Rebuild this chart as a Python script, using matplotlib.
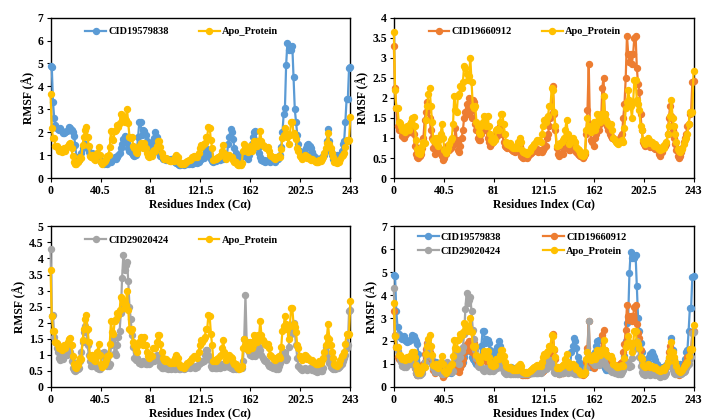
import numpy as np
import matplotlib
matplotlib.use("Agg")
import matplotlib.pyplot as plt

plt.rcParams['font.family'] = ['Liberation Serif', 'DejaVu Serif']
plt.rcParams['font.weight'] = 'bold'

residues = np.arange(244)

apo = [
    3.65, 2.20, 1.75, 1.75, 1.40, 1.38, 1.30, 1.20, 1.25, 1.15,
    1.25, 1.30, 1.20, 1.35, 1.40, 1.50, 1.52, 1.30, 0.95, 0.72,
    0.62, 0.60, 0.68, 0.80, 0.90, 0.88, 1.45, 1.80, 2.10, 2.25,
    1.80, 1.40, 0.95, 0.90, 1.00, 0.85, 0.80, 0.95, 1.10, 1.35,
    1.00, 0.70, 0.62, 0.68, 0.75, 0.85, 0.95, 1.00, 1.35, 2.05,
    1.70, 1.65, 2.05, 2.10, 2.30, 2.25, 2.40, 2.80, 2.75, 2.60,
    2.45, 2.55, 3.00, 2.40, 1.80, 1.75, 1.80, 1.40, 1.30, 1.15,
    1.10, 1.30, 1.40, 1.55, 1.45, 1.30, 1.55, 1.30, 1.10, 0.95,
    0.90, 1.00, 0.95, 1.20, 1.22, 1.20, 1.40, 1.60, 1.60, 1.35,
    1.10, 0.90, 0.85, 0.82, 0.88, 0.80, 0.78, 0.75, 0.75, 0.80,
    0.75, 0.90, 1.00, 0.90, 0.70, 0.65, 0.62, 0.65, 0.60, 0.65,
    0.68, 0.75, 0.78, 0.80, 0.85, 0.90, 0.95, 0.92, 0.95, 0.90,
    1.10, 1.30, 1.45, 1.40, 1.50, 1.55, 1.80, 1.80, 2.25, 2.20,
    1.65, 1.30, 0.80, 0.85, 0.82, 0.88, 0.90, 0.95, 1.00, 1.20,
    1.45, 1.10, 0.85, 0.90, 0.95, 1.00, 0.92, 0.90, 0.78, 0.72,
    0.70, 0.62, 0.58, 0.55, 0.58, 0.65, 1.20, 1.50, 1.30, 1.20,
    1.15, 1.30, 1.40, 1.20, 1.30, 1.60, 1.50, 1.40, 1.60, 1.55,
    2.05, 1.60, 1.45, 1.40, 1.35, 1.30, 1.35, 1.20, 1.00, 0.95,
    0.90, 0.88, 0.85, 0.90, 0.92, 0.95, 0.90, 1.25, 1.75, 1.90,
    2.20, 1.95, 1.80, 1.50, 1.90, 2.45, 2.45, 1.95, 1.85, 1.70,
    1.30, 1.20, 0.95, 0.90, 0.85, 0.92, 1.00, 0.95, 0.88, 0.90,
    0.85, 0.80, 0.85, 0.78, 0.75, 0.72, 0.70, 0.72, 0.80, 0.75,
    0.85, 0.90, 1.10, 1.30, 1.55, 1.95, 1.50, 1.30, 1.10, 0.90,
    0.72, 0.68, 0.65, 0.70, 0.72, 0.85, 0.95, 1.00, 1.10, 1.35,
    1.65, 1.62, 1.65, 2.68,
]

cid19579838 = [
    4.90, 4.85, 3.30, 2.60, 2.30, 2.20, 2.15, 2.10, 2.20, 2.05,
    1.98, 1.95, 2.00, 2.05, 2.10, 2.25, 2.20, 2.10, 2.00, 1.85,
    1.45, 0.90, 0.75, 0.80, 0.90, 1.10, 1.30, 1.45, 1.50, 1.40,
    1.30, 1.15, 1.00, 1.05, 1.10, 1.05, 1.00, 1.05, 0.95, 0.90,
    0.80, 0.70, 0.65, 0.62, 0.68, 0.72, 0.60, 0.70, 0.75, 0.72,
    0.80, 0.85, 0.90, 0.85, 0.90, 1.00, 1.10, 1.30, 1.50, 1.70,
    1.85, 1.75, 1.55, 1.30, 1.20, 1.15, 1.10, 1.00, 0.95, 1.00,
    1.20, 1.80, 2.45, 2.45, 1.90, 2.10, 2.05, 1.90, 1.60, 1.30,
    1.15, 1.30, 1.50, 1.60, 1.75, 2.00, 1.80, 1.45, 1.10, 0.95,
    0.90, 0.85, 0.88, 0.82, 0.80, 0.85, 0.80, 0.78, 0.82, 0.75,
    0.80, 0.70, 0.65, 0.60, 0.58, 0.55, 0.60, 0.62, 0.58, 0.60,
    0.65, 0.62, 0.60, 0.65, 0.68, 0.62, 0.65, 0.70, 0.68, 0.65,
    0.70, 0.80, 0.85, 0.90, 0.88, 1.05, 1.20, 1.25, 1.20, 1.00,
    0.85, 0.75, 0.72, 0.78, 0.75, 0.80, 0.85, 0.80, 0.88, 0.90,
    0.85, 0.90, 0.95, 1.00, 1.50, 1.80, 2.15, 2.00, 1.70, 1.30,
    1.10, 0.95, 0.85, 0.88, 0.90, 1.00, 1.15, 1.05, 0.95, 0.90,
    0.85, 1.00, 1.15, 1.50, 1.80, 2.00, 2.05, 1.60, 1.30, 1.10,
    0.90, 0.80, 0.75, 0.78, 0.72, 0.75, 0.80, 0.78, 0.72, 0.75,
    0.80, 0.75, 0.72, 0.78, 0.85, 0.90, 1.00, 1.35, 2.00, 2.80,
    3.05, 4.95, 5.90, 5.60, 5.70, 5.60, 5.75, 4.40, 3.00, 2.45,
    1.90, 1.50, 1.20, 1.05, 1.00, 1.05, 1.10, 1.30, 1.45, 1.50,
    1.40, 1.30, 1.15, 1.00, 0.90, 0.85, 0.82, 0.80, 0.85, 0.88,
    0.88, 0.95, 1.00, 1.20, 1.60, 2.15, 1.60, 1.20, 1.00, 0.85,
    0.85, 0.90, 1.00, 0.95, 0.92, 0.98, 1.20, 1.50, 1.60, 2.45,
    3.45, 3.45, 4.80, 4.85,
]

cid19660912 = [
    3.30, 2.25, 1.75, 1.30, 1.20, 1.22, 1.18, 1.05, 1.00, 1.08,
    1.10, 1.15, 1.20, 1.15, 1.30, 1.25, 1.10, 0.80, 0.60, 0.52,
    0.50, 0.55, 0.60, 0.75, 1.00, 1.45, 1.65, 1.90, 1.70, 1.50,
    1.20, 1.00, 0.75, 0.60, 0.70, 0.80, 1.00, 0.75, 0.60, 0.55,
    0.45, 0.50, 0.60, 0.80, 0.75, 0.70, 0.75, 0.80, 0.90, 0.85,
    1.25, 0.95, 0.70, 0.65, 0.80, 1.00, 1.20, 1.50, 1.65, 1.85,
    1.60, 2.00, 1.65, 1.50, 1.95, 1.90, 1.35, 1.20, 1.00, 0.95,
    0.95, 1.10, 1.25, 1.35, 1.25, 1.20, 1.00, 0.90, 0.80, 0.85,
    0.90, 1.00, 1.05, 1.10, 1.05, 1.20, 1.30, 1.20, 1.10, 0.90,
    0.80, 0.78, 0.75, 0.80, 0.78, 0.72, 0.70, 0.68, 0.65, 0.70,
    0.68, 0.75, 0.80, 0.55, 0.52, 0.50, 0.52, 0.55, 0.50, 0.55,
    0.60, 0.62, 0.65, 0.70, 0.68, 0.70, 0.72, 0.65, 0.68, 0.70,
    0.65, 0.70, 0.75, 0.80, 1.00, 1.10, 1.30, 1.50, 1.60, 2.30,
    1.60, 1.20, 0.75, 0.60, 0.55, 0.60, 0.62, 0.60, 0.75, 0.90,
    1.00, 0.85, 0.70, 0.70, 0.75, 0.80, 0.85, 0.70, 0.65, 0.60,
    0.58, 0.55, 0.55, 0.50, 0.55, 0.60, 1.10, 1.70, 2.85, 1.30,
    0.95, 0.90, 0.80, 1.00, 1.10, 1.25, 1.20, 1.35, 1.40, 2.25,
    2.50, 1.60, 1.45, 1.30, 1.20, 1.10, 1.05, 1.00, 1.00, 0.95,
    0.92, 0.90, 0.95, 1.00, 1.05, 1.10, 1.50, 1.85, 2.50, 3.55,
    3.10, 2.90, 3.10, 2.85, 3.10, 3.50, 3.55, 2.75, 2.35, 2.15,
    1.60, 1.20, 0.90, 0.85, 0.80, 0.88, 0.90, 0.82, 0.78, 0.85,
    0.80, 0.75, 0.72, 0.78, 0.70, 0.60, 0.55, 0.65, 0.75, 0.80,
    0.80, 0.85, 1.10, 1.50, 1.80, 1.55, 1.20, 1.00, 0.85, 0.70,
    0.55, 0.50, 0.55, 0.65, 0.75, 0.90, 1.00, 1.10, 1.30, 1.35,
    1.60, 1.65, 2.40, 2.43,
]

cid29020424 = [
    4.30, 2.20, 2.25, 1.55, 1.40, 1.20, 1.10, 0.90, 0.85, 0.92,
    0.88, 0.95, 1.00, 0.98, 1.10, 1.20, 1.10, 0.80, 0.60, 0.52,
    0.50, 0.52, 0.55, 0.60, 0.80, 1.10, 1.40, 1.70, 1.90, 1.75,
    1.30, 1.00, 0.80, 0.65, 0.65, 0.75, 0.90, 0.70, 0.60, 0.55,
    0.55, 0.65, 1.05, 1.10, 0.95, 0.70, 0.65, 0.65, 0.70, 1.30,
    1.40, 1.50, 1.05, 1.00, 1.30, 1.55, 1.75, 2.30, 3.40, 4.10,
    3.65, 3.80, 3.90, 3.30, 2.50, 2.10, 1.60, 1.25, 0.90, 0.85,
    0.90, 0.85, 0.75, 0.70, 0.75, 0.80, 0.75, 0.70, 0.70, 0.75,
    0.70, 0.75, 0.80, 0.85, 0.80, 0.90, 1.00, 0.90, 0.80, 0.65,
    0.60, 0.58, 0.62, 0.60, 0.58, 0.55, 0.60, 0.58, 0.55, 0.60,
    0.58, 0.55, 0.60, 0.58, 0.55, 0.55, 0.58, 0.60, 0.55, 0.58,
    0.60, 0.62, 0.65, 0.60, 0.62, 0.65, 0.62, 0.60, 0.65, 0.62,
    0.70, 0.75, 0.80, 0.78, 0.80, 1.00, 1.15, 1.15, 1.00, 0.85,
    0.65, 0.60, 0.62, 0.60, 0.58, 0.60, 0.62, 0.60, 0.65, 0.70,
    0.65, 0.62, 0.68, 0.70, 0.65, 0.62, 0.60, 0.58, 0.55, 0.58,
    0.55, 0.58, 0.55, 0.60, 0.62, 0.60, 0.80, 1.50, 2.85, 1.40,
    1.15, 1.10, 1.00, 0.95, 1.00, 1.05, 0.95, 1.10, 1.20, 1.25,
    1.15, 1.00, 0.90, 0.85, 0.80, 0.82, 0.70, 0.65, 0.68, 0.62,
    0.60, 0.65, 0.58, 0.55, 0.55, 0.65, 0.75, 0.85, 1.05, 1.10,
    1.00, 0.85, 0.90, 1.25, 1.60, 1.75, 1.80, 2.00, 1.70, 1.30,
    0.90, 0.65, 0.58, 0.55, 0.52, 0.55, 0.58, 0.55, 0.52, 0.55,
    0.58, 0.55, 0.52, 0.55, 0.50, 0.48, 0.45, 0.48, 0.50, 0.48,
    0.50, 0.60, 0.90, 1.25, 1.05, 0.90, 0.75, 0.62, 0.58, 0.55,
    0.58, 0.55, 0.60, 0.58, 0.62, 0.65, 0.70, 0.80, 0.90, 1.00,
    1.20, 1.30, 2.35, 2.40,
]

xtick_vals = [0, 40.5, 81, 121.5, 162, 202.5, 243]
xtick_labels = ["0", "40.5", "81", "121.5", "162", "202.5", "243"]

c_blue = "#5B9BD5"
c_orange = "#ED7D31"
c_gray = "#A5A5A5"
c_yellow = "#FFC000"

fig = plt.figure(figsize=(7.02, 4.2), dpi=100)

W = 0.427
H = 0.382
axes_pos = [
    (0.072, 0.576), (0.561, 0.576),
    (0.072, 0.079), (0.561, 0.079),
]

panels = [
    ([("CID19579838", cid19579838, c_blue), ("Apo_Protein", apo, c_yellow)], 7, 1),
    ([("CID19660912", cid19660912, c_orange), ("Apo_Protein", apo, c_yellow)], 4, 0.5),
    ([("CID29020424", cid29020424, c_gray), ("Apo_Protein", apo, c_yellow)], 5, 0.5),
    ([("CID19579838", cid19579838, c_blue), ("CID19660912", cid19660912, c_orange),
      ("CID29020424", cid29020424, c_gray), ("Apo_Protein", apo, c_yellow)], 7, 1),
]

def fmt(v):
    if abs(v - round(v)) < 1e-9:
        return str(int(round(v)))
    return ("%g" % v)

for (left, bottom), (series, ymax, ystep) in zip(axes_pos, panels):
    ax = fig.add_axes([left, bottom, W, H])
    handles = []
    for name, vals, col in series:
        h, = ax.plot(residues, vals, color=col, lw=1.6, marker='o', ms=4.3,
                     mec=col, mfc=col, label=name, clip_on=False, zorder=3)
        handles.append(h)
    ax.set_xlim(0, 243)
    ax.set_ylim(0, ymax)
    ax.set_xticks(xtick_vals)
    ax.set_xticklabels(xtick_labels)
    yt = np.arange(0, ymax + ystep / 2, ystep)
    ax.set_yticks(yt)
    ax.set_yticklabels([fmt(v) for v in yt])
    ax.tick_params(axis='both', labelsize=8.5, direction='out', length=3, width=0.8, pad=2)
    for lab in ax.get_xticklabels() + ax.get_yticklabels():
        lab.set_fontweight('bold')
    for s in ax.spines.values():
        s.set_color('black')
        s.set_linewidth(1.0)
    ax.set_ylabel("RMSF (Å)", fontsize=8.5, fontweight='bold', labelpad=2)
    ax.set_xlabel("Residues Index (Cα)", fontsize=8.5, fontweight='bold', labelpad=1)
    if len(series) == 2:
        leg = ax.legend(handles=handles, loc='upper left', bbox_to_anchor=(0.095, 0.98),
                        ncol=2, frameon=False, fontsize=7.5, columnspacing=2.9,
                        handlelength=2.0, handletextpad=0.2, borderaxespad=0.2)
    else:
        order = [handles[0], handles[2], handles[1], handles[3]]
        leg = ax.legend(handles=order, loc='upper left', bbox_to_anchor=(0.06, 1.0),
                        ncol=2, frameon=False, fontsize=7.5, columnspacing=4.0,
                        handlelength=2.0, handletextpad=0.2, borderaxespad=0.2,
                        labelspacing=0.45)
    for t in leg.get_texts():
        t.set_fontweight('bold')

fig.savefig("out.png", dpi=100)
